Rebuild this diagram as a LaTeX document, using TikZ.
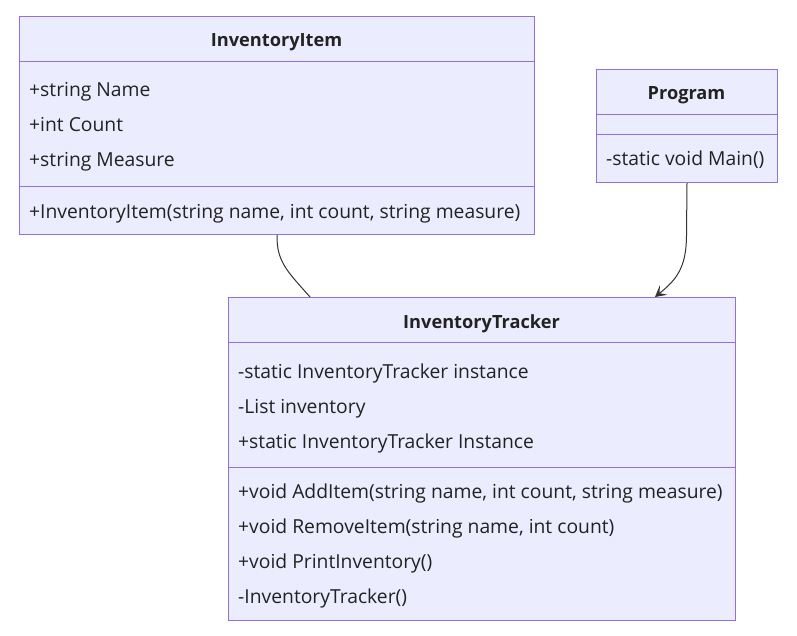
\documentclass[tikz,border=0pt]{standalone}
\usepackage{fontspec}
\setmainfont{Open Sans}
\usetikzlibrary{arrows.meta}
\definecolor{boxfill}{HTML}{ECECFF}
\definecolor{boxline}{HTML}{9370DB}
\definecolor{txt}{HTML}{222222}
\definecolor{edge}{HTML}{333333}
\tikzset{
  box/.style={draw=boxline, fill=boxfill, line width=1pt, anchor=north west, inner sep=0pt},
  divider/.style={draw=boxline, line width=1pt},
  title/.style={font=\fontsize{18.2}{21}\selectfont\bfseries, text=txt, anchor=center},
  member/.style={font=\fontsize{19.3}{22}\selectfont, text=txt, anchor=west, inner sep=0pt, text height=14.5pt, text depth=4.6pt},
  conn/.style={draw=edge, line width=1pt},
}
\begin{document}
\begin{tikzpicture}[x=1pt,y=-1pt]
\useasboundingbox (0,0) rectangle (797,635);
% InventoryItem
\node[box, minimum width=515, minimum height=218] (item) at (19,16) {};
\draw[divider] (19,61) -- (534,61);
\draw[divider] (19,186) -- (534,186);
\node[title] (itemt) at (276.5,42) {InventoryItem};
\node[member] (i1) at (29,91.5) {+string Name};
\node[member] (i2) at (29,126.5) {+int Count};
\node[member] (i3) at (29,161.5) {+string Measure};
\node[member] (i4) at (29,213.5) {+InventoryItem(string name, int count, string measure)};
% Program
\node[box, minimum width=181, minimum height=113] (prog) at (596,69) {};
\draw[divider] (596,114) -- (777,114);
\draw[divider] (596,134) -- (777,134);
\node[title] (progt) at (686.5,95) {Program};
\node[member] (p1) at (606,160.5) {-static void Main()};
% InventoryTracker
\node[box, minimum width=507, minimum height=323] (track) at (228,297) {};
\draw[divider] (228,342) -- (735,342);
\draw[divider] (228,467) -- (735,467);
\node[title] (trackt) at (481.5,324) {InventoryTracker};
\node[member] (t1) at (238,373.5) {-static InventoryTracker instance};
\node[member] (t2) at (238,408.5) {-List inventory};
\node[member] (t3) at (238,443.5) {+static InventoryTracker Instance};
\node[member] (t4) at (238,493.5) {+void AddItem(string name, int count, string measure)};
\node[member] (t5) at (238,528.5) {+void RemoveItem(string name, int count)};
\node[member] (t6) at (238,563.5) {+void PrintInventory()};
\node[member] (t7) at (238,598.5) {-InventoryTracker()};
% connectors
\coordinate (ea) at (310,297);
\coordinate (eb) at (655,297);
\draw[conn] (item.south) .. controls (276.5,262) and (288,272) .. (ea);
\draw[conn, -{Stealth[length=11pt,width=12pt,inset=5pt]}] (prog.south) -- (686.5,235) .. controls (686.5,268) and (676,280) .. (eb);
\end{tikzpicture}
\end{document}
